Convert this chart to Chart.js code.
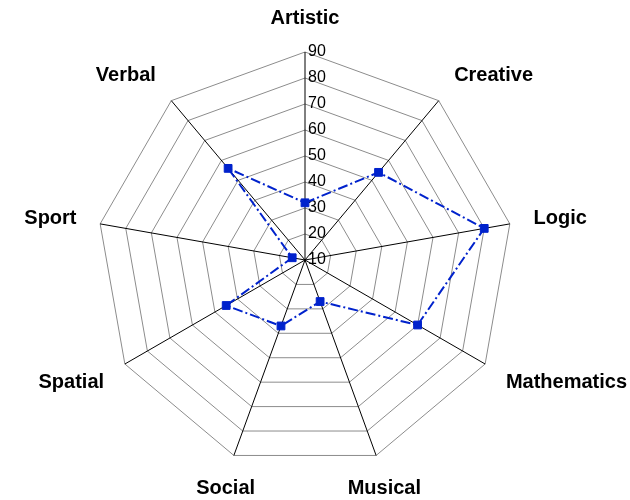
<!DOCTYPE html>
<html>
<head>
<meta charset="utf-8">
<script src="https://cdn.jsdelivr.net/npm/chart.js@4/dist/chart.umd.min.js"></script>
<style>
  html, body { margin: 0; padding: 0; background: #fff; }
  #chart { display: block; }
</style>
</head>
<body>
<canvas id="chart" width="630" height="500"></canvas>
<script>
const categories = ["Artistic", "Creative", "Logic", "Mathematics", "Musical", "Social", "Spatial", "Sport", "Verbal"];
const scores = [32, 54, 80, 60, 27, 37, 45, 15, 56];
const scaleMin = 10;
const scaleMax = 90;
const scaleStep = 10;

const FONT = '"Liberation Sans", Arial, sans-serif';

// 目盛りと項目名は自前で描く（位置を元の図に合わせるため）
const axisText = {
  id: "axisText",
  beforeDatasetsDraw(chart) {
    const r = chart.scales.r;
    const ctx = chart.ctx;
    ctx.save();
    ctx.fillStyle = "#000";
    ctx.textBaseline = "middle";

    ctx.font = "16px " + FONT;
    ctx.textAlign = "left";
    r.ticks.forEach((t) => {
      const d = r.getDistanceFromCenterForValue(t.value);
      ctx.fillText(t.label, r.xCenter + 3, r.yCenter - d);
    });

    ctx.font = "bold 20px " + FONT;
    categories.forEach((name, i) => {
      const a = r.getIndexAngle(i);
      const p = r.getPointPosition(i, r.drawingArea);
      const s = Math.sin(a);
      const c = Math.cos(a);
      ctx.textAlign = Math.abs(s) < 0.5 ? "center" : s > 0 ? "left" : "right";
      ctx.fillText(name, p.x + s * 24, p.y - c * 34.5 + 1);
    });
    ctx.restore();
  },
};

new Chart(document.getElementById("chart"), {
  type: "radar",
  data: {
    labels: categories,
    datasets: [
      {
        data: scores,
        borderColor: "#0022cc",
        borderWidth: 2,
        borderDash: [10, 3, 2, 3],
        fill: false,
        tension: 0,
        pointStyle: "rect",
        pointRadius: 5.5,
        pointBorderWidth: 1,
        pointBackgroundColor: "#0022cc",
        pointBorderColor: "#0022cc",
      },
    ],
  },
  options: {
    responsive: false,
    animation: false,
    plugins: {
      legend: { display: false },
      tooltip: { enabled: false },
    },
    scales: {
      r: {
        min: scaleMin,
        max: scaleMax,
        ticks: { stepSize: scaleStep, display: false },
        grid: { color: "#8c8c8c", lineWidth: 1 },
        angleLines: { color: "#000", lineWidth: 1 },
        pointLabels: { display: false },
        afterFit(scale) {
          scale.xCenter = 305;
          scale.yCenter = 260;
          scale.drawingArea = 208;
        },
      },
    },
  },
  plugins: [axisText],
});
</script>
</body>
</html>
